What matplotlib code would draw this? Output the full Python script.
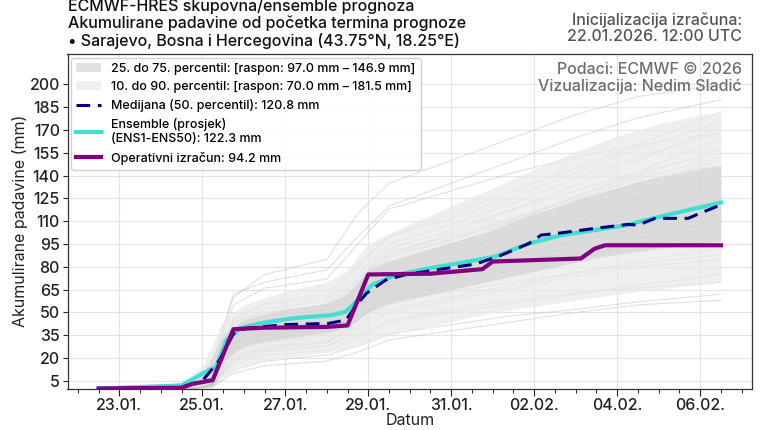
import numpy as np
import pandas as pd
import matplotlib
matplotlib.use("Agg")
import matplotlib.pyplot as plt
import matplotlib.dates as mdates
from matplotlib.patches import Patch
from matplotlib.lines import Line2D

plt.rcParams['font.family'] = ['Inter', 'DejaVu Sans']
plt.rcParams['font.weight'] = 500

# ---------------- data ----------------
init = pd.Timestamp("2026-01-22 12:00")

# 12-hourly percentile bands (hours since init)
band_hours = list(range(0, 361, 12))
p10 = [0, 0, 0, 0, 0.3, 1.5, 8, 15, 18, 20, 22, 24, 26, 30, 35, 38, 41, 44, 47, 50, 52, 54, 56, 58, 60, 62, 64, 65, 67, 68, 70.0]
p25 = [0, 0, 0, 0.2, 0.8, 3, 18, 28, 31, 33, 35, 37, 40, 50, 56, 59, 62, 65, 68, 71, 74, 77, 80, 83, 86, 88, 90, 92, 94, 96, 97.0]
p75 = [0, 0, 0.2, 0.5, 2, 8, 35, 45, 49, 52, 54, 56, 62, 78, 84, 88, 92, 96, 100, 104, 110, 115, 119, 124, 128, 132, 136, 139, 142, 145, 146.9]
p90 = [0, 0, 0.3, 1, 4, 14, 45, 55, 60, 64, 67, 70, 78, 95, 102, 108, 114, 120, 126, 132, 138, 144, 150, 156, 161, 166, 170, 174, 177, 180, 181.5]
band_min = [p25[-1], p10[-1]]
band_max = [p75[-1], p90[-1]]

median_hours = [0, 48, 60, 70, 78, 85, 108, 133, 143, 150, 155, 166, 178, 201, 218, 233, 249, 256, 268, 287, 306, 312, 322, 341, 350, 360]
median_vals = [0, 0.5, 5, 18.7, 36, 39.6, 42, 42.8, 45, 56, 62.6, 71.3, 75, 79, 81.8, 87.7, 95.4, 100.9, 102.4, 105.3, 107.9, 107.5, 111.9, 111.9, 116.2, 120.8]

mean_hours = [0, 48, 62, 68, 74, 82, 93, 112, 135, 143, 151, 158, 172, 191, 210, 229, 249, 268, 287, 306, 316, 360]
mean_vals = [0, 2, 11, 14.3, 31.9, 39.6, 42.8, 46.1, 48.3, 50.5, 59.3, 68, 74.6, 79, 82.7, 86.6, 95.4, 100.9, 104.2, 107.5, 110.7, 122.3]

oper_hours = [0, 48, 54, 66, 78, 96, 132, 144, 156, 192, 222, 228, 279, 287, 293, 360]
oper_vals = [0, 0.5, 3, 5.5, 39, 40, 40.5, 41.5, 75, 75.5, 78.5, 83.5, 85.5, 92, 94.2, 94.2]

member_hours = [0, 36, 54, 66, 78, 96, 132, 150, 168, 204, 240, 276, 312, 360]
m01 = [0, 0, 1, 4, 30, 38, 42, 55, 70, 80, 92, 100, 108, 118]
m02 = [0, 0, 2, 8, 40, 48, 52, 70, 88, 98, 110, 122, 135, 150]
m03 = [0, 0, 0, 2, 18, 25, 28, 35, 45, 52, 58, 63, 66, 70]
m04 = [0, 0, 3, 12, 45, 55, 60, 80, 100, 115, 130, 145, 160, 182]
m05 = [0, 0, 1, 5, 25, 30, 33, 45, 60, 68, 78, 86, 92, 97]
m06 = [0, 0, 0, 3, 35, 42, 46, 62, 78, 90, 102, 112, 125, 140]
m07 = [0, 0, 4, 16, 60, 75, 85, 115, 135, 150, 165, 180, 192, 200]
m08 = [0, 0, 1, 6, 28, 35, 38, 48, 58, 64, 70, 76, 82, 88]
m09 = [0, 0, 0, 1, 12, 18, 22, 28, 36, 42, 48, 52, 57, 62]
m10 = [0, 0, 2, 7, 38, 45, 50, 66, 82, 95, 108, 120, 130, 145]
m11 = [0, 0, 1, 4, 32, 40, 44, 58, 72, 84, 96, 106, 116, 128]
m12 = [0, 0, 0, 2, 22, 28, 31, 40, 52, 60, 68, 76, 84, 92]
m13 = [0, 0, 3, 9, 42, 52, 58, 75, 95, 108, 122, 138, 152, 168]
m14 = [0, 0, 1, 3, 20, 26, 30, 42, 55, 65, 75, 85, 95, 105]
m15 = [0, 0, 0, 5, 30, 36, 40, 52, 68, 78, 88, 98, 105, 112]
m16 = [0, 0, 2, 6, 36, 44, 48, 64, 80, 92, 104, 115, 126, 135]
m17 = [0, 0, 1, 8, 44, 50, 54, 72, 90, 100, 112, 126, 140, 158]
m18 = [0, 0, 0, 2, 16, 22, 25, 33, 44, 50, 56, 62, 68, 75]
m19 = [0, 0, 1, 5, 27, 33, 37, 50, 64, 74, 84, 94, 102, 110]
m20 = [0, 0, 5, 18, 62, 70, 78, 100, 120, 135, 150, 165, 178, 190]
m21 = [0, 0, 1, 4, 34, 40, 43, 56, 70, 82, 94, 104, 114, 122]
m22 = [0, 0, 0, 3, 24, 31, 35, 46, 58, 68, 78, 88, 96, 102]
m23 = [0, 0, 2, 7, 39, 47, 52, 68, 86, 98, 112, 124, 138, 152]
m24 = [0, 0, 1, 6, 31, 37, 41, 54, 68, 78, 88, 96, 104, 115]
m25 = [0, 0, 0, 1, 10, 15, 18, 24, 32, 38, 44, 50, 55, 58]
m26 = [0, 0, 2, 9, 41, 50, 55, 72, 92, 104, 118, 130, 142, 155]
m27 = [0, 0, 1, 3, 26, 32, 36, 48, 62, 72, 82, 90, 98, 106]
m28 = [0, 0, 1, 5, 33, 39, 42, 58, 74, 86, 98, 110, 120, 132]
m29 = [0, 0, 2, 11, 46, 56, 62, 82, 100, 112, 126, 142, 158, 175]
m30 = [0, 0, 0, 4, 29, 35, 39, 50, 62, 70, 80, 88, 95, 100]
m31 = [0, 0, 1, 5, 30, 37, 41, 60, 80, 94, 110, 126, 142, 165]
m32 = [0, 0, 0, 2, 20, 27, 30, 45, 62, 74, 86, 98, 110, 125]
m33 = [0, 0, 2, 8, 37, 45, 49, 68, 88, 102, 118, 134, 150, 172]
m34 = [0, 0, 1, 4, 26, 33, 37, 50, 66, 76, 86, 96, 106, 118]
m35 = [0, 0, 0, 3, 18, 24, 28, 38, 50, 58, 66, 74, 80, 85]
m36 = [0, 0, 3, 12, 55, 66, 72, 95, 118, 130, 142, 152, 160, 168]
members = [m01, m02, m03, m04, m05, m06, m07, m08, m09, m10, m11, m12, m13, m14, m15,
           m16, m17, m18, m19, m20, m21, m22, m23, m24, m25, m26, m27, m28, m29, m30,
           m31, m32, m33, m34, m35, m36]

tick_dates = ["2026-01-23", "2026-01-25", "2026-01-27", "2026-01-29",
              "2026-01-31", "2026-02-02", "2026-02-04", "2026-02-06"]
y_ticks = list(range(5, 201, 15))

title_text = ("ECMWF-HRES skupovna/ensemble prognoza\n"
              "Akumulirane padavine od početka termina prognoze\n"
              "• Sarajevo, Bosna i Hercegovina (43.75°N, 18.25°E)")
init_text = "Inicijalizacija izračuna:\n22.01.2026. 12:00 UTC"
credit_text = "Podaci: ECMWF © 2026\nVizualizacija: Nedim Sladić"


def to_time(hours):
    return init + pd.to_timedelta(hours, unit="h")


# ---------------- figure ----------------
fig = plt.figure(figsize=(7.6, 4.3), dpi=100)
ax = fig.add_axes([67.5 / 760, 1 - 388.5 / 430, (752 - 67.5) / 760, (388.5 - 54) / 430])

t_band = to_time(band_hours)
t_mem = to_time(member_hours)
for m in members:
    ax.plot(t_mem, m, color="#c4c4c4", lw=0.8, alpha=0.5, zorder=1)

ax.fill_between(t_band, p10, p90, color="#e9e9e9", alpha=0.7, lw=0, zorder=2)
ax.fill_between(t_band, p25, p75, color="#d0d0d0", alpha=0.6, lw=0, zorder=3)

ax.plot(to_time(mean_hours), mean_vals, color="#40E0D0", lw=3, zorder=5)
ax.plot(to_time(median_hours), median_vals, color="#000080", lw=2.2, ls=(0, (4.5, 2.5)), zorder=6)
ax.plot(to_time(oper_hours), oper_vals, color="#800080", lw=3, zorder=7)

ax.set_ylim(0, 220)
ax.set_yticks(y_ticks)
ax.set_xlim(to_time(-18), to_time(378))
ax.set_xticks(pd.to_datetime(tick_dates))
ax.xaxis.set_major_formatter(mdates.DateFormatter("%d.%m."))
ax.xaxis.set_minor_locator(mdates.HourLocator(byhour=[0, 12]))
ax.tick_params(axis="both", labelsize=11.5, colors="#222222")
ax.tick_params(axis="x", which="major", length=5, pad=2)
ax.tick_params(axis="x", which="minor", length=3)
ax.tick_params(axis="y", pad=2)
ax.grid(True, color="#e4e4e4", lw=0.8, zorder=0)
ax.set_axisbelow(True)
for s in ax.spines.values():
    s.set_color("#333333")
    s.set_linewidth(0.9)

ax.set_ylabel("Akumulirane padavine (mm)", fontsize=11.5, color="#222222", labelpad=1)
ax.set_xlabel("Datum", fontsize=11.5, color="#222222", labelpad=0)

handles = [
    Patch(facecolor="#d0d0d0", alpha=0.6, edgecolor="none"),
    Patch(facecolor="#e9e9e9", alpha=0.7, edgecolor="none"),
    Line2D([], [], color="#000080", lw=2.2, ls=(0, (4.5, 2.5))),
    Line2D([], [], color="#40E0D0", lw=3),
    Line2D([], [], color="#800080", lw=3),
]
labels = [
    f"25. do 75. percentil: [raspon: {band_min[0]:.1f} mm – {band_max[0]:.1f} mm]",
    f"10. do 90. percentil: [raspon: {band_min[1]:.1f} mm – {band_max[1]:.1f} mm]",
    f"Medijana (50. percentil): {median_vals[-1]:.1f} mm",
    f"Ensemble (prosjek)\n(ENS1-ENS50): {mean_vals[-1]:.1f} mm",
    f"Operativni izračun: {oper_vals[-1]:.1f} mm",
]
leg = ax.legend(handles, labels, loc="upper left", fontsize=9, frameon=True,
                borderaxespad=0.3, handlelength=2.0, labelspacing=0.5,
                fancybox=True, framealpha=0.9)
leg.get_frame().set_edgecolor("#cccccc")

ax.text(0.985, 0.975, credit_text, transform=ax.transAxes, ha="right", va="top",
        fontsize=11.5, color="#6e6e6e", linespacing=1.1)

fig.text(68 / 760, 1 - 49 / 430, title_text, ha="left", va="bottom",
         fontsize=11.5, color="#111111", linespacing=1.15)
fig.text(742 / 760, 1 - 44 / 430, init_text, ha="right", va="bottom",
         fontsize=11.5, color="#555555", linespacing=1.1)

fig.savefig("out.png", dpi=100)
